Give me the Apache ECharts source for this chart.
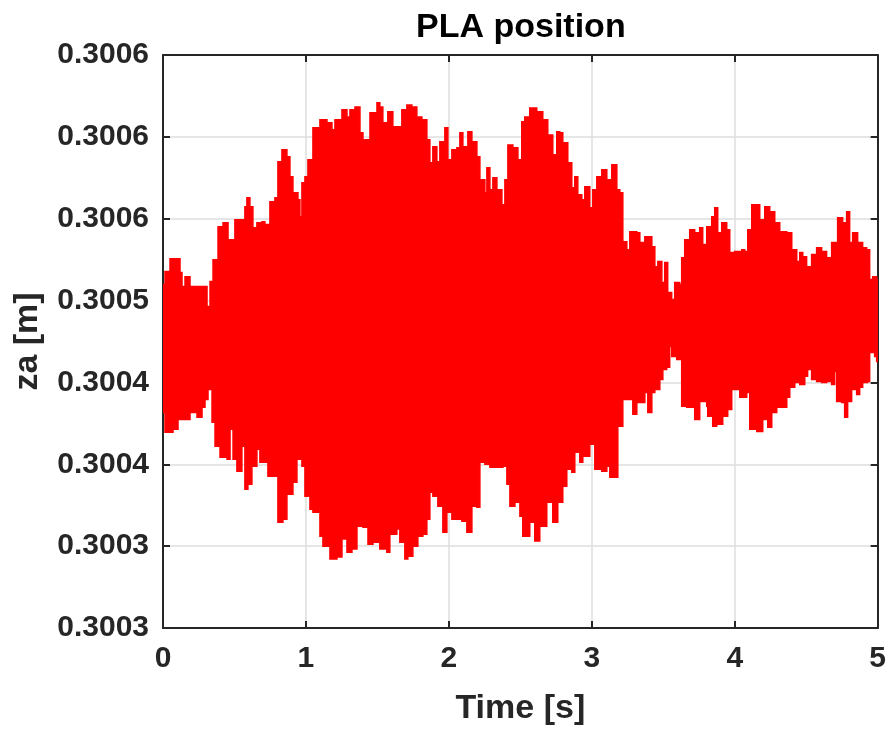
<!DOCTYPE html>
<html>
<head>
<meta charset="utf-8">
<script src="https://cdn.jsdelivr.net/npm/echarts@6/dist/echarts.min.js"></script>
<style>html,body{margin:0;padding:0;background:#fff}#chart{width:889px;height:731px}</style>
</head>
<body>
<div id="chart"></div>
<script>
// ---- data ----
const titleText = 'PLA position';
const xName = 'Time [s]';
const yName = 'za [m]';
const xTicks = [0, 1, 2, 3, 4, 5];
// y tick labels from bottom to top (as printed, rounded to 4 decimals)
const yTickLabels = ['0.3003', '0.3003', '0.3004', '0.3004', '0.3005', '0.3006', '0.3006', '0.3006'];
const yMin = 0.30025, yStep = 0.00005, yMax = 0.30060;

// upper envelope of the oscillating signal
const upperT = [0,0.014,0.049,0.119,0.133,0.154,0.189,0.280,0.308,0.329,
0.350,0.385,0.420,0.455,0.483,0.503,0.538,0.573,0.587,0.608,
0.629,0.657,0.692,0.713,0.748,0.783,0.804,0.832,0.867,0.888,
0.909,0.944,0.958,0.972,0.993,1.014,1.049,1.098,1.147,1.182,
1.203,1.252,1.287,1.308,1.343,1.364,1.378,1.399,1.448,1.497,
1.517,1.538,1.573,1.608,1.636,1.671,1.706,1.741,1.776,1.811,
1.846,1.867,1.888,1.916,1.937,1.972,1.993,2.021,2.056,2.077,
2.098,2.133,2.161,2.196,2.217,2.252,2.266,2.287,2.308,2.336,
2.371,2.392,2.413,2.448,2.483,2.510,2.531,2.566,2.615,2.657,
2.692,2.727,2.755,2.776,2.797,2.832,2.860,2.881,2.902,2.930,
2.951,2.986,3.007,3.035,3.070,3.105,3.140,3.175,3.196,3.217,
3.245,3.266,3.315,3.336,3.371,3.392,3.420,3.441,3.462,3.490,
3.510,3.531,3.559,3.580,3.615,3.629,3.650,3.685,3.720,3.755,
3.776,3.804,3.839,3.860,3.881,3.909,3.944,3.965,4.000,4.049,
4.070,4.091,4.119,4.154,4.175,4.210,4.245,4.280,4.315,4.364,
4.399,4.434,4.455,4.476,4.503,4.538,4.573,4.608,4.643,4.678,
4.720,4.755,4.783,4.804,4.825,4.860,4.895,4.923,4.930,4.944,
4.965,4.993,5.000];
const upperZ = [0.3004598,0.3004677,0.3004756,0.3004671,0.3004586,0.3004646,0.3004586,0.3004586,0.3004464,0.3004616,
0.3004750,0.3004951,0.3004976,0.3004872,0.3004872,0.3004994,0.3004994,0.3005073,0.3005128,0.3005073,
0.3004945,0.3004976,0.3004982,0.3004964,0.3005104,0.3005128,0.3005348,0.3005421,0.3005378,0.3005256,
0.3005159,0.3005116,0.3005012,0.3005220,0.3005256,0.3005360,0.3005555,0.3005604,0.3005586,0.3005543,
0.3005604,0.3005665,0.3005622,0.3005665,0.3005683,0.3005683,0.3005525,0.3005482,0.3005647,0.3005708,
0.3005683,0.3005586,0.3005653,0.3005561,0.3005561,0.3005665,0.3005695,0.3005683,0.3005622,0.3005604,
0.3005482,0.3005342,0.3005439,0.3005348,0.3005470,0.3005555,0.3005360,0.3005421,0.3005433,0.3005525,
0.3005439,0.3005531,0.3005470,0.3005378,0.3005238,0.3005159,0.3005311,0.3005177,0.3005250,0.3005177,
0.3005086,0.3005238,0.3005451,0.3005433,0.3005360,0.3005592,0.3005622,0.3005677,0.3005653,0.3005604,
0.3005512,0.3005390,0.3005531,0.3005525,0.3005464,0.3005342,0.3005189,0.3005256,0.3005147,0.3005116,
0.3005195,0.3005067,0.3005177,0.3005256,0.3005299,0.3005238,0.3005330,0.3005177,0.3005159,0.3004860,
0.3004811,0.3004921,0.3004915,0.3004854,0.3004890,0.3004890,0.3004829,0.3004707,0.3004738,0.3004610,
0.3004732,0.3004549,0.3004506,0.3004610,0.3004598,0.3004762,0.3004872,0.3004933,0.3004915,0.3004945,
0.3004842,0.3004951,0.3005012,0.3005067,0.3004915,0.3004976,0.3004933,0.3004793,0.3004799,0.3004811,
0.3004799,0.3004933,0.3005086,0.3005086,0.3004994,0.3005073,0.3005043,0.3004976,0.3004921,0.3004915,
0.3004811,0.3004738,0.3004793,0.3004768,0.3004707,0.3004781,0.3004823,0.3004799,0.3004762,0.3004854,
0.3005006,0.3004976,0.3005043,0.3004854,0.3004915,0.3004854,0.3004823,0.3004732,0.3004811,0.3004628,
0.3004646,0.3004628,0.3004628];

// lower envelope of the oscillating signal
const lowerT = [0,0.014,0.070,0.105,0.140,0.189,0.238,0.273,0.294,0.315,
0.343,0.364,0.399,0.448,0.469,0.490,0.517,0.552,0.573,0.594,
0.622,0.657,0.678,0.713,0.734,0.783,0.804,0.839,0.867,0.909,
0.937,0.972,0.993,1.028,1.049,1.098,1.119,1.168,1.217,1.252,
1.287,1.322,1.357,1.399,1.434,1.469,1.517,1.566,1.587,1.636,
1.657,1.692,1.713,1.748,1.783,1.818,1.846,1.867,1.888,1.923,
1.958,1.986,2.021,2.056,2.091,2.126,2.161,2.196,2.217,2.252,
2.287,2.336,2.378,2.406,2.427,2.462,2.497,2.517,2.566,2.601,
2.636,2.685,2.727,2.762,2.797,2.825,2.860,2.881,2.916,2.937,
2.986,3.021,3.070,3.105,3.126,3.161,3.182,3.217,3.266,3.287,
3.315,3.350,3.371,3.392,3.420,3.441,3.476,3.497,3.524,3.545,
3.559,3.594,3.629,3.664,3.720,3.755,3.804,3.811,3.846,3.874,
3.916,3.951,3.979,4.014,4.035,4.084,4.105,4.154,4.196,4.231,
4.259,4.294,4.336,4.364,4.385,4.420,4.455,4.490,4.510,4.538,
4.573,4.608,4.643,4.678,4.699,4.713,4.748,4.769,4.790,4.818,
4.853,4.874,4.895,4.930,4.944,4.979,4.993,5.000];
const lowerZ = [0.3003817,0.3003695,0.3003714,0.3003774,0.3003774,0.3003817,0.3003787,0.3003848,0.3003896,0.3003957,
0.3003756,0.3003610,0.3003543,0.3003531,0.3003714,0.3003531,0.3003457,0.3003610,0.3003348,0.3003378,
0.3003488,0.3003592,0.3003512,0.3003512,0.3003427,0.3003427,0.3003146,0.3003165,0.3003317,0.3003390,
0.3003531,0.3003488,0.3003305,0.3003226,0.3003207,0.3003061,0.3003000,0.3002921,0.3002933,0.3003043,
0.3002963,0.3002982,0.3003122,0.3003116,0.3003012,0.3003024,0.3002982,0.3002963,0.3003073,0.3003104,
0.3003024,0.3002921,0.3002939,0.3003000,0.3003061,0.3003073,0.3003165,0.3003329,0.3003305,0.3003244,
0.3003085,0.3003207,0.3003165,0.3003165,0.3003152,0.3003085,0.3003244,0.3003238,0.3003512,0.3003500,
0.3003482,0.3003482,0.3003488,0.3003378,0.3003244,0.3003268,0.3003183,0.3003061,0.3003146,0.3003031,
0.3003122,0.3003268,0.3003146,0.3003268,0.3003366,0.3003470,0.3003451,0.3003573,0.3003512,0.3003549,
0.3003622,0.3003470,0.3003457,0.3003488,0.3003421,0.3003421,0.3003732,0.3003896,0.3003896,0.3003805,
0.3003878,0.3003878,0.3003939,0.3003817,0.3003939,0.3003957,0.3004018,0.3004079,0.3004092,0.3004220,
0.3004159,0.3004140,0.3003854,0.3003848,0.3003774,0.3003884,0.3003854,0.3003793,0.3003732,0.3003744,
0.3003793,0.3003835,0.3003957,0.3003957,0.3003909,0.3003939,0.3003714,0.3003701,0.3003774,0.3003726,
0.3003817,0.3003848,0.3003848,0.3003909,0.3003970,0.3004000,0.3003988,0.3004037,0.3004079,0.3004018,
0.3004006,0.3004000,0.3004006,0.3003988,0.3004067,0.3003884,0.3003878,0.3003787,0.3003884,0.3003957,
0.3003927,0.3003970,0.3004000,0.3004006,0.3004183,0.3004159,0.3004128,0.3004128];

// ---- chart ----
const FONT = 'Liberation Sans';
const TXT = '#262626';
const chart = echarts.init(document.getElementById('chart'), null, {renderer: 'canvas'});

function yLabel(v) {
  const i = Math.round((v - yMin) / yStep);
  return yTickLabels[i] !== undefined ? yTickLabels[i] : '';
}

const axisLineStyle = {color: TXT, width: 2};
const tickStyle = {show: true, inside: true, length: 7, lineStyle: {color: TXT, width: 2}};

const option = {
  backgroundColor: '#ffffff',
  animation: false,
  title: {
    text: titleText, left: 411, top: 6,
    textStyle: {fontFamily: FONT, fontSize: 34, fontWeight: 'bold', color: '#000'}
  },
  grid: {left: 163, right: 11, top: 55, bottom: 102, containLabel: false},
  xAxis: [{
    type: 'value', min: xTicks[0], max: xTicks[xTicks.length - 1], interval: 1,
    position: 'bottom',
    name: xName, nameLocation: 'middle', nameGap: 64,
    nameTextStyle: {fontFamily: FONT, fontSize: 34, fontWeight: 'bold', color: TXT},
    axisLine: {show: true, onZero: false, lineStyle: axisLineStyle},
    axisTick: tickStyle,
    axisLabel: {fontFamily: FONT, fontSize: 30, fontWeight: 'bold', color: TXT, margin: 16},
    splitLine: {show: true, lineStyle: {color: '#dedede', width: 1.5}}
  }, {
    type: 'value', min: xTicks[0], max: xTicks[xTicks.length - 1], interval: 1,
    position: 'top',
    axisLine: {show: true, onZero: false, lineStyle: axisLineStyle},
    axisTick: tickStyle, axisLabel: {show: false}, splitLine: {show: false}
  }],
  yAxis: [{
    type: 'value', min: yMin, max: yMax, interval: yStep,
    position: 'left',
    name: yName, nameLocation: 'middle', nameGap: 118,
    nameTextStyle: {fontFamily: FONT, fontSize: 34, fontWeight: 'bold', color: TXT},
    axisLine: {show: true, onZero: false, lineStyle: axisLineStyle},
    axisTick: tickStyle,
    axisLabel: {fontFamily: FONT, fontSize: 30, fontWeight: 'bold', color: TXT, margin: 14, formatter: yLabel},
    splitLine: {show: true, lineStyle: {color: '#dedede', width: 1.5}}
  }, {
    type: 'value', min: yMin, max: yMax, interval: yStep,
    position: 'right',
    axisLine: {show: true, onZero: false, lineStyle: axisLineStyle},
    axisTick: tickStyle, axisLabel: {show: false}, splitLine: {show: false}
  }],
  series: [{
    type: 'custom',
    xAxisIndex: 0, yAxisIndex: 0,
    clip: true,
    z: 1,
    data: [[upperT[0], upperZ[0]]],
    renderItem: function (params, api) {
      const pts = [];
      const nU = Math.min(upperT.length, upperZ.length);
      for (let i = 0; i < nU; i++) {
        if (i > 0) pts.push(api.coord([upperT[i], upperZ[i - 1]]));
        pts.push(api.coord([upperT[i], upperZ[i]]));
      }
      const nL = Math.min(lowerT.length, lowerZ.length);
      for (let i = nL - 1; i >= 0; i--) {
        if (i < nL - 1) pts.push(api.coord([lowerT[i + 1], lowerZ[i]]));
        pts.push(api.coord([lowerT[i], lowerZ[i]]));
      }
      return {
        type: 'polygon',
        shape: {points: pts},
        style: {fill: '#ff0000', stroke: '#ff0000', lineWidth: 1.5}
      };
    }
  }]
};
chart.setOption(option);
</script>
</body>
</html>
